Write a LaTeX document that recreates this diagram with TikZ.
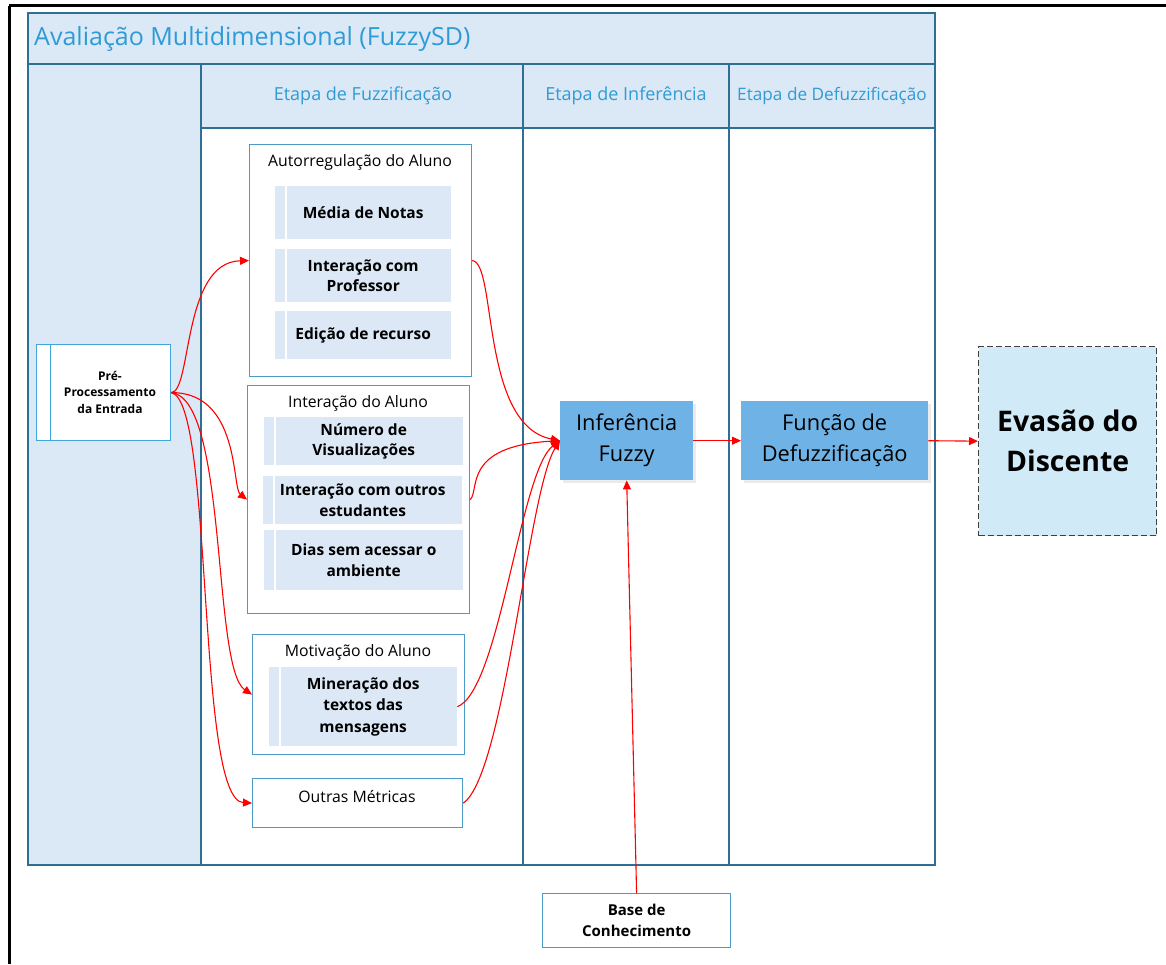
\documentclass[tikz,border=0pt]{standalone}
\usepackage{fontspec}
\setmainfont{Open Sans}
\usetikzlibrary{arrows.meta,shadows}
\definecolor{lanec}{HTML}{2E6F93}
\definecolor{hdrfill}{HTML}{DBE8F6}
\definecolor{hdrtext}{HTML}{2E9BD6}
\definecolor{grpc}{HTML}{4A9BC9}
\definecolor{subfill}{HTML}{DCE8F5}
\definecolor{procfill}{HTML}{6FB2E5}
\definecolor{evafill}{HTML}{D0EAF7}
\definecolor{prec}{HTML}{41A5DC}
\definecolor{arrc}{HTML}{FF0000}
\tikzset{
  lanebox/.style={draw=lanec,line width=1.5pt},
  hdrtxt/.style={text=hdrtext,font=\fontsize{18}{22}\selectfont,inner sep=0pt},
  grp/.style={draw=grpc,line width=1.2pt,fill=white,anchor=north west,inner sep=0pt},
  grptitle/.style={font=\fontsize{15.8}{18}\selectfont,inner sep=0pt},
  subbox/.style={fill=subfill,draw=none,anchor=north west,inner sep=0pt,align=center,
    font=\bfseries\fontsize{15.5}{20.5}\selectfont,
    path picture={\draw[white,line width=1.8pt]
      ([xshift=11pt]path picture bounding box.north west) --
      ([xshift=11pt]path picture bounding box.south west);}},
  proc/.style={fill=procfill,draw=none,anchor=north west,inner sep=0pt,align=center,
    font=\fontsize{21.8}{31}\selectfont,
    drop shadow={shadow xshift=3pt,shadow yshift=-3pt,fill=black!8,opacity=1}},
  arr/.style={draw=arrc,line width=1.1pt,-{Triangle[length=9pt,width=8pt]}},
}
\begin{document}
\begin{tikzpicture}[x=1pt,y=-1pt]
\useasboundingbox (0,0) rectangle (1166,964);
\fill[white] (0,0) rectangle (1166,964);
% page frame fragments
\draw[line width=3pt] (9,5.5) -- (1166,5.5);
\draw[line width=3pt] (9,5.5) -- (9,964);

% pool and lanes
\fill[hdrfill] (28,13) rectangle (935,128);
\fill[hdrfill] (28,64) rectangle (201,865);
\draw[lanebox] (28,13) rectangle (935,865);
\draw[lanebox] (28,64) -- (935,64);
\draw[lanebox] (201,128) -- (935,128);
\draw[lanebox] (201,64) -- (201,865);
\draw[lanebox] (523,64) -- (523,865);
\draw[lanebox] (729,64) -- (729,865);

\node[anchor=west,text=hdrtext,font=\fontsize{25}{30}\selectfont,inner sep=0pt] (title) at (34,39) {Avaliação Multidimensional (FuzzySD)};
\node[hdrtxt] (h1) at (363,96) {Etapa de Fuzzificação};
\node[hdrtxt] (h2) at (626,96) {Etapa de Inferência};
\node[hdrtxt,font=\fontsize{17.2}{22}\selectfont] (h3) at (832,96) {Etapa de Defuzzificação};

% pre-processing
\node[draw=prec,line width=1.2pt,fill=white,anchor=north west,minimum width=134pt,minimum height=96pt,inner sep=0pt,
  path picture={\draw[prec,line width=1.2pt]
      ([xshift=14pt]path picture bounding box.north west) --
      ([xshift=14pt]path picture bounding box.south west);}] (pre) at (36,344) {};
\node[align=center,font=\bfseries\fontsize{12}{16.5}\selectfont,inner sep=0pt] (pretxt) at (110,392) {Pré-\\Processamento\\da Entrada};

% group: Autorregulação
\node[grp,minimum width=222pt,minimum height=232pt] (auto) at (249,144) {};
\node[grptitle] (autot) at (360,162) {Autorregulação do Aluno};
\node[subbox,minimum width=176pt,minimum height=53pt] (s1) at (275,186) {Média de Notas};
\node[subbox,minimum width=176pt,minimum height=53pt] (s2) at (275,249) {Interação com\\Professor};
\node[subbox,minimum width=176pt,minimum height=48pt] (s3) at (275,311) {Edição de recurso};

% group: Interação do Aluno
\node[grp,minimum width=222pt,minimum height=228pt] (inta) at (247,385) {};
\node[grptitle] (intat) at (358,403) {Interação do Aluno};
\node[subbox,minimum width=199pt,minimum height=48pt] (s4) at (264,417) {Número de\\Visualizações};
\node[subbox,minimum width=199pt,minimum height=48pt] (s5) at (263,476) {Interação com outros\\estudantes};
\node[subbox,minimum width=199pt,minimum height=60pt] (s6) at (264,530) {Dias sem acessar o\\ambiente};

% group: Motivação
\node[grp,minimum width=212pt,minimum height=120pt] (mot) at (252,634) {};
\node[grptitle] (mott) at (358,652) {Motivação do Aluno};
\node[subbox,minimum width=188pt,minimum height=79pt,font=\bfseries\fontsize{15.5}{21.5}\selectfont] (s7) at (269,667) {Mineração dos\\textos das\\mensagens};

% Outras métricas
\node[grp,minimum width=210pt,minimum height=49pt] (outr) at (252,778) {};
\node[grptitle] (outrt) at (357,797) {Outras Métricas};

% process nodes
\node[proc,minimum width=133pt,minimum height=79pt] (inf) at (560,401) {Inferência\\Fuzzy};
\node[proc,minimum width=187pt,minimum height=79pt] (def) at (741,401) {Função de\\Defuzzificação};
\node[fill=evafill,draw=black!75,dash pattern=on 6pt off 3pt,line width=1.3pt,anchor=north west,
  minimum width=178pt,minimum height=189pt,inner sep=0pt,align=center,
  font=\bfseries\fontsize{28.4}{40}\selectfont] (eva) at (978,346) {Evasão do\\Discente};
\node[draw=grpc,line width=1.2pt,fill=white,anchor=north west,minimum width=188pt,minimum height=54pt,
  inner sep=0pt,align=center,font=\bfseries\fontsize{15}{21}\selectfont] (base) at (542,893) {Base de\\Conhecimento};

% connectors
\draw[arr] (pre.east) .. controls (192,392) and (182,262) .. (auto.west);
\draw[arr] (pre.east) .. controls (240,392) and (232,488) .. (inta.west);
\draw[arr] (pre.east) .. controls (228,398) and (212,668) .. (mot.west);
\draw[arr] (pre.east) .. controls (214,400) and (196,800) .. (outr.west);
\draw[arr] (auto.east) .. controls (497,262) and (480,425) .. (inf.west);
\draw[arr] (inta.east) .. controls (480,490) and (462,446) .. (inf.west);
\draw[arr] (s7.east) .. controls (500,690) and (520,470) .. (inf.west);
\draw[arr] (outr.east) .. controls (505,775) and (528,490) .. (inf.west);
\draw[arr] (inf.east) -- (def.west);
\draw[arr] (def.east) -- (eva.west);
\draw[arr] (base.north) -- (inf.south);
\end{tikzpicture}
\end{document}
